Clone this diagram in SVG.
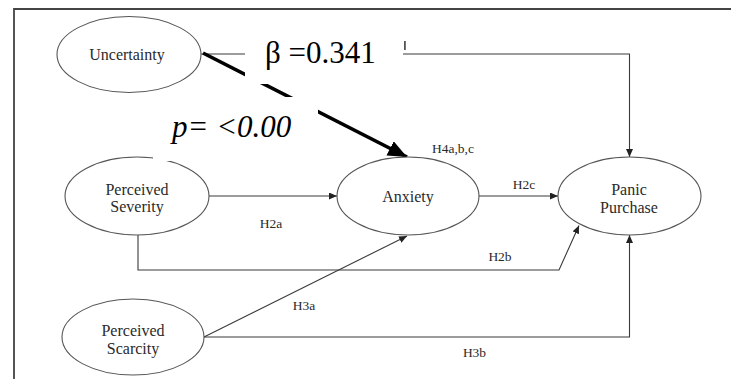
<svg xmlns="http://www.w3.org/2000/svg" width="731" height="379" viewBox="0 0 731 379">
  <style>
    text { font-family: 'Liberation Serif', 'Times New Roman', serif; }
    .node ellipse { fill: #ffffff; stroke: #555555; stroke-width: 1.1; }
    .node text { font-size: 16px; fill: #2a2a2a; text-anchor: middle; }
    .conn { fill: none; stroke: #3a3a3a; stroke-width: 1.1; }
    .hyp { font-size: 13.5px; fill: #2a2a2a; text-anchor: middle; }
    .stat { font-size: 31px; fill: #000000; }
    .mask { fill: #ffffff; stroke: none; }
  </style>
  <defs>
    <marker id="tip" markerUnits="userSpaceOnUse" markerWidth="9" markerHeight="7" refX="8" refY="3.5" orient="auto">
      <path d="M0,0 L8,3.5 L0,7 Z" fill="#222222"/>
    </marker>
    <marker id="bigtip" markerUnits="userSpaceOnUse" markerWidth="20" markerHeight="16" refX="19" refY="8" orient="auto">
      <path d="M0,0 L19,8 L0,16 Z" fill="#000000"/>
    </marker>
  </defs>

  <rect width="731" height="379" fill="#ffffff"/>

  <!-- frame -->
  <path d="M14,379 V9 H731" fill="none" stroke="#444444" stroke-width="1.8"/>

  <!-- connectors -->
  <g id="connectors">
    <path class="conn" d="M201,54 H629.5 V157" marker-end="url(#tip)"/>
    <path class="conn" d="M209,196 H337" marker-end="url(#tip)"/>
    <path class="conn" d="M138,235 V270 H559 L579,225.5" marker-end="url(#tip)"/>
    <path class="conn" d="M479,196 H558" marker-end="url(#tip)"/>
    <path class="conn" d="M204,337 L407,236" marker-end="url(#tip)"/>
    <path class="conn" d="M204,337 H629.5 V235" marker-end="url(#tip)"/>
    <path d="M203,53 L407,157" fill="none" stroke="#000000" stroke-width="3.6" marker-end="url(#bigtip)"/>
  </g>

  <!-- nodes -->
  <g id="uncertainty" class="node">
    <ellipse cx="129" cy="54.5" rx="72" ry="38"/>
    <text x="127" y="60">Uncertainty</text>
  </g>
  <g id="perceived-severity" class="node">
    <ellipse cx="137" cy="196" rx="72" ry="39"/>
    <text x="137" y="195">Perceived</text>
    <text x="137" y="212">Severity</text>
  </g>
  <g id="anxiety" class="node">
    <ellipse cx="408" cy="196" rx="71" ry="39"/>
    <text x="408" y="202">Anxiety</text>
  </g>
  <g id="panic-purchase" class="node">
    <ellipse cx="629.5" cy="196" rx="71.5" ry="39"/>
    <text x="629" y="195">Panic</text>
    <text x="629" y="213">Purchase</text>
  </g>
  <g id="perceived-scarcity" class="node">
    <ellipse cx="133" cy="337" rx="71" ry="38"/>
    <text x="133" y="336">Perceived</text>
    <text x="133" y="354">Scarcity</text>
  </g>

  <!-- hypothesis labels -->
  <g id="labels">
    <text class="hyp" x="271" y="228">H2a</text>
    <text class="hyp" x="500" y="261">H2b</text>
    <text class="hyp" x="524" y="189">H2c</text>
    <text class="hyp" x="304" y="310">H3a</text>
    <text class="hyp" x="474.5" y="357">H3b</text>
    <text class="hyp" x="432" y="153" style="text-anchor:start">H4a,b,c</text>
  </g>

  <!-- path statistics on white panels -->
  <g id="statistics">
    <rect class="mask" x="245" y="22" width="158" height="62"/>
    <rect x="404" y="41" width="1.8" height="9" fill="#555555"/>
    <text class="stat" x="265" y="63">β =0.341</text>
    <rect class="mask" x="153" y="97" width="165" height="64"/>
    <text class="stat" x="172" y="137" font-style="italic">p= &lt;0.00</text>
  </g>
</svg>
